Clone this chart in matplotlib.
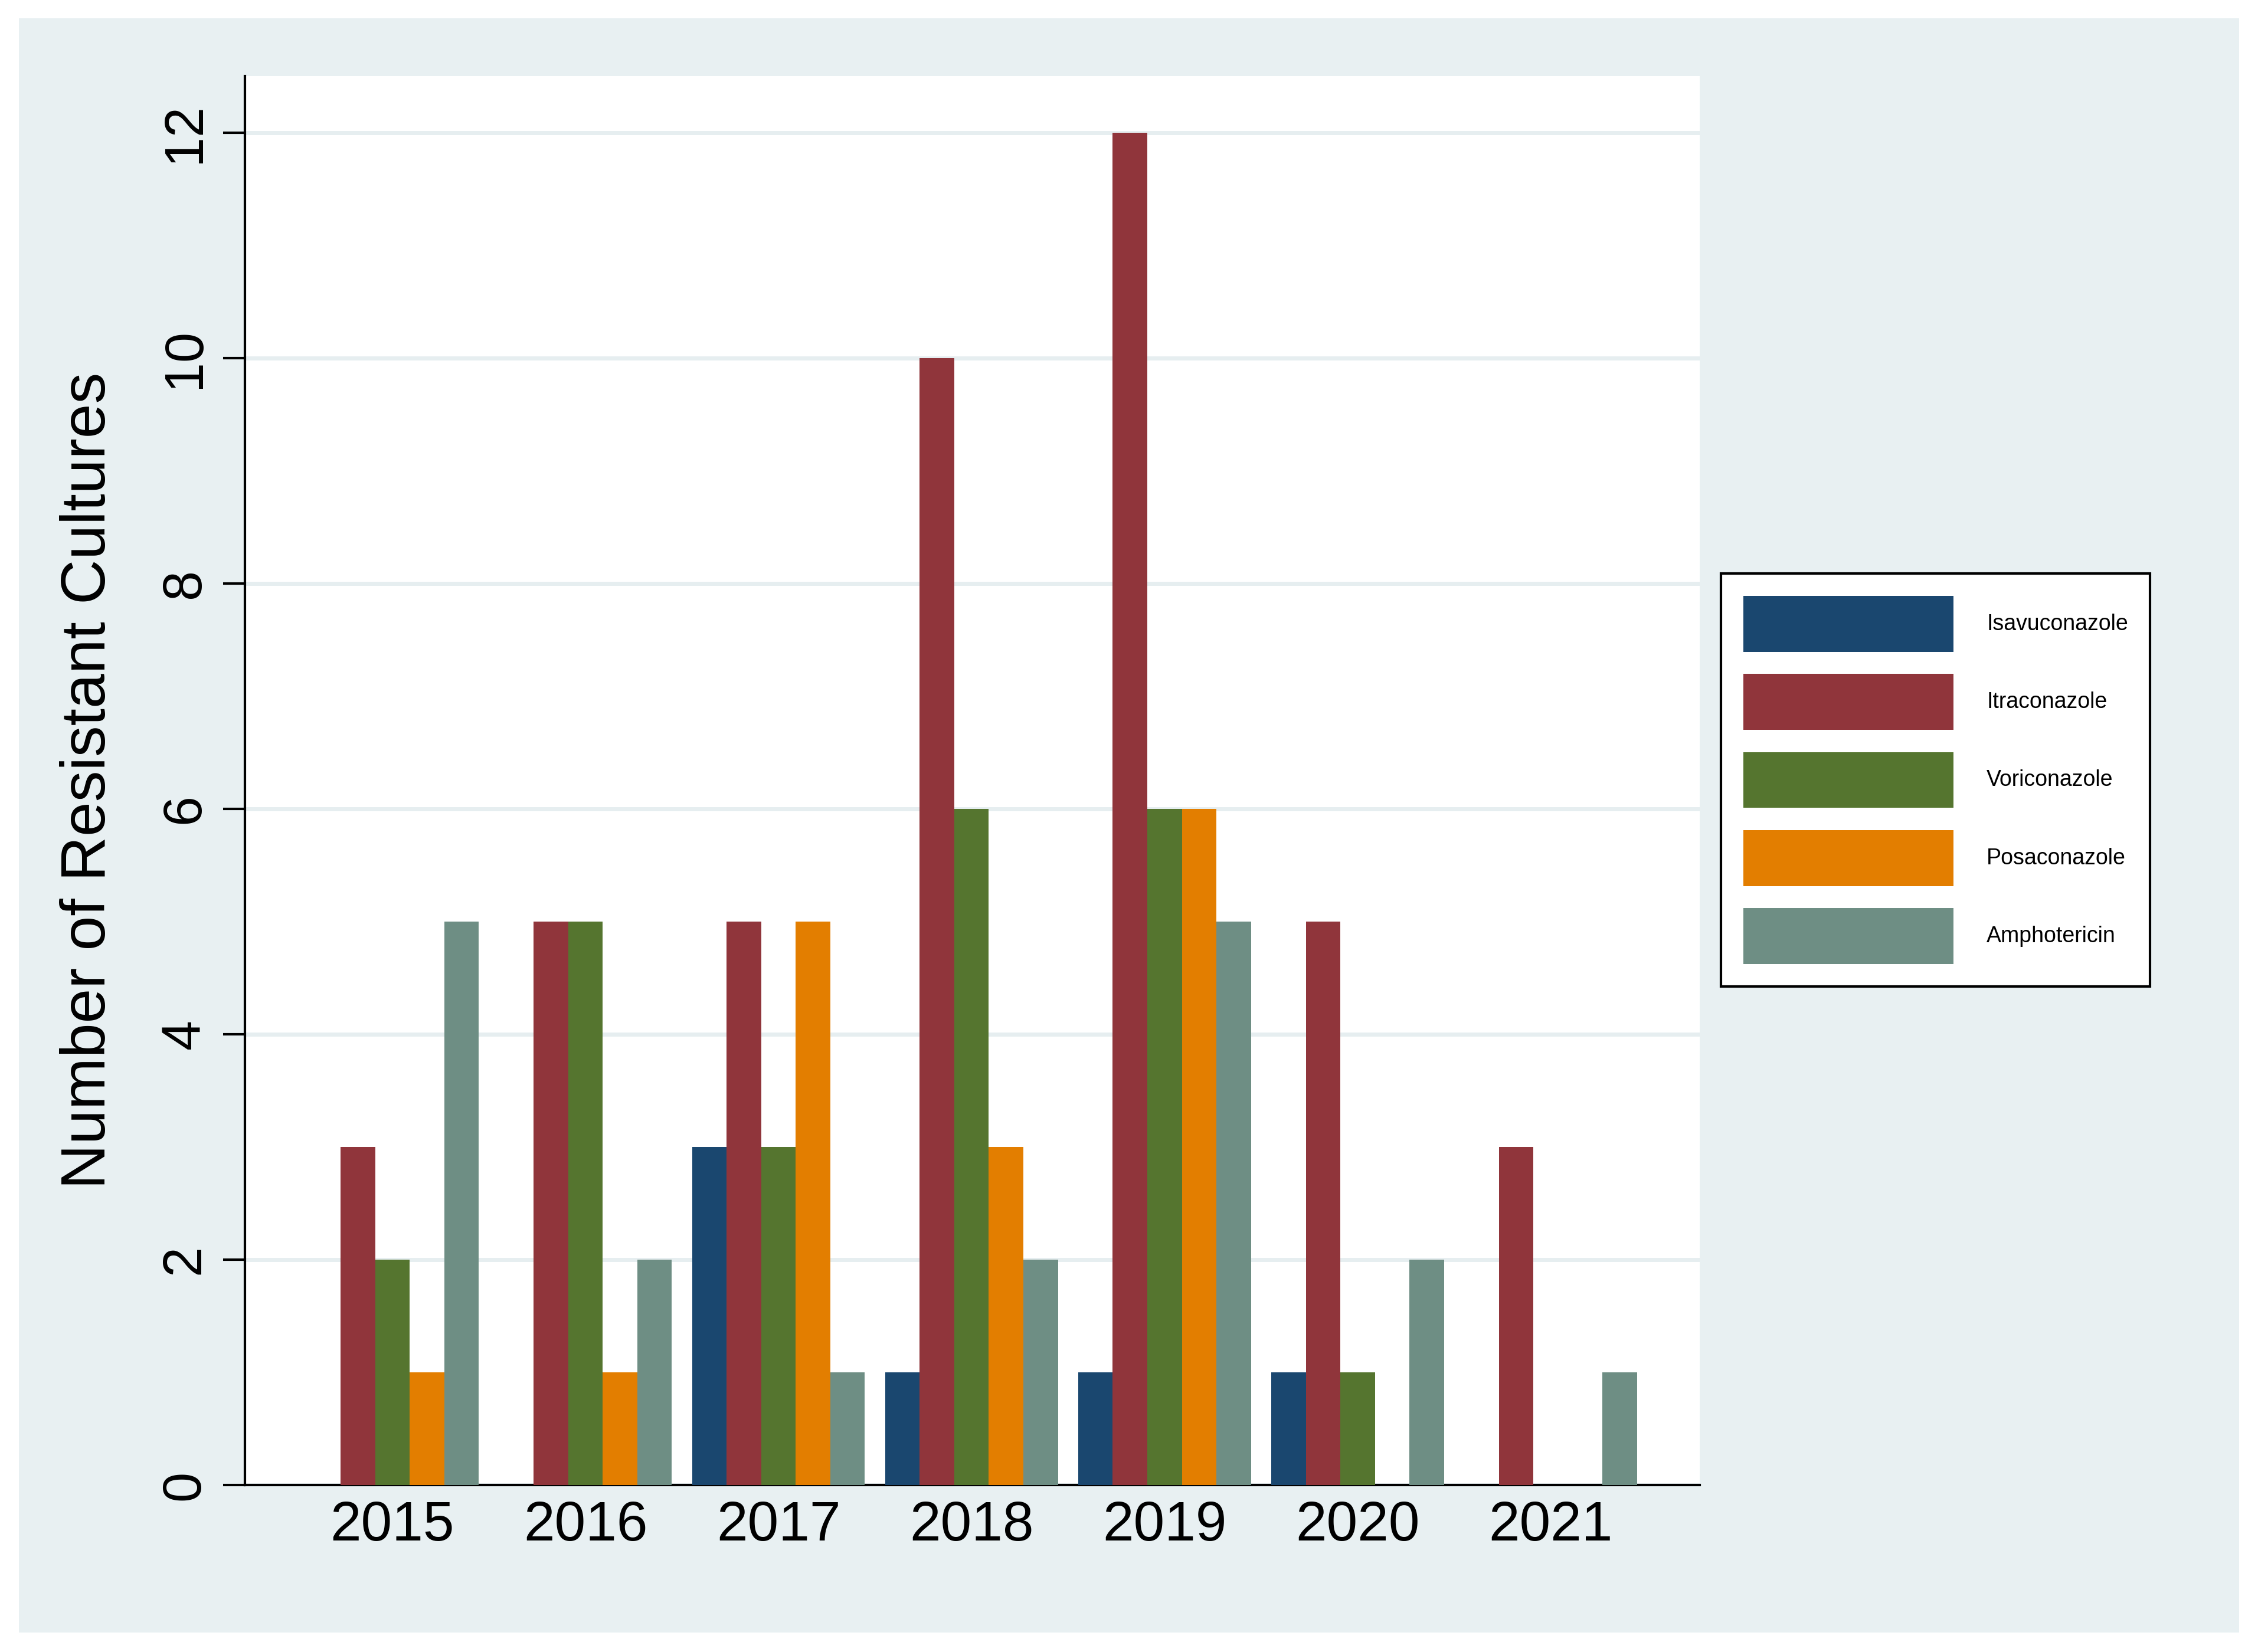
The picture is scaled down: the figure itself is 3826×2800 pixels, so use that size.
import numpy as np
import matplotlib.pyplot as plt
from matplotlib.patches import Rectangle

plt.rcParams['font.family'] = ['Liberation Sans', 'DejaVu Sans']

years = ['2015', '2016', '2017', '2018', '2019', '2020', '2021']
drugs = ['Isavuconazole', 'Itraconazole', 'Voriconazole', 'Posaconazole', 'Amphotericin']
isavuconazole = [0, 0, 3, 1, 1, 1, 0]
itraconazole = [3, 5, 5, 10, 12, 5, 3]
voriconazole = [2, 5, 3, 6, 6, 1, 0]
posaconazole = [1, 1, 5, 3, 6, 0, 0]
amphotericin = [5, 2, 1, 2, 5, 2, 1]
series = [isavuconazole, itraconazole, voriconazole, posaconazole, amphotericin]
colors = ['#1a476f', '#90353b', '#55752f', '#e37e00', '#6e8e84']

W, H = 3826, 2800
fig = plt.figure(figsize=(W / 100, H / 100), dpi=100)
fig.patch.set_facecolor('white')

# Stata-like light bluish graph region
fig.patches.append(Rectangle((32 / W, 1 - 2767 / H), (3794 - 32) / W, (2767 - 31) / H,
                             transform=fig.transFigure, facecolor='#e8f0f2',
                             edgecolor='none', zorder=-1))

ax = fig.add_axes([415 / W, 1 - 2517 / H, (2880 - 415) / W, (2517 - 129) / H])
ax.set_facecolor('white')

x = np.arange(len(years))
bw = 0.179
for k, (vals, c, name) in enumerate(zip(series, colors, drugs)):
    ax.bar(x + (k - 2) * bw, vals, width=bw, color=c, edgecolor='none',
           label=name, zorder=3)

ax.set_xlim(-0.764, 6.772)
ax.set_ylim(0, 12.5)
ax.set_yticks(np.arange(0, 13, 2))
ax.set_xticks(x)
ax.set_xticklabels(years)

ax.set_axisbelow(True)
ax.grid(axis='y', color='#e6eef0', linewidth=5)
ax.grid(axis='x', visible=False)

for s in ['top', 'right']:
    ax.spines[s].set_visible(False)
for s in ['left', 'bottom']:
    ax.spines[s].set_linewidth(3)
    ax.spines[s].set_color('black')

ax.tick_params(axis='x', length=0, pad=18, labelsize=68)
ax.tick_params(axis='y', length=27, width=3, pad=15, labelsize=66)
for lbl in ax.get_yticklabels():
    lbl.set_rotation(90)
    lbl.set_va('center')

fig.text(151 / W, 1 - 1323 / H, 'Number of Resistant Cultures', rotation=90,
         ha='center', va='center', fontsize=76)

leg = fig.legend(loc='center left', bbox_to_anchor=(2916 / W, 1 - 1322 / H),
                 fontsize=27, frameon=True, fancybox=False, edgecolor='black',
                 handlelength=9.5, handleheight=3.52, handletextpad=1.5,
                 labelspacing=1.0, borderpad=1.0, borderaxespad=0)
leg.get_frame().set_linewidth(3)
leg.get_frame().set_facecolor('white')
leg.get_frame().set_alpha(1)

fig.savefig('out.png', dpi=100, facecolor='white')
